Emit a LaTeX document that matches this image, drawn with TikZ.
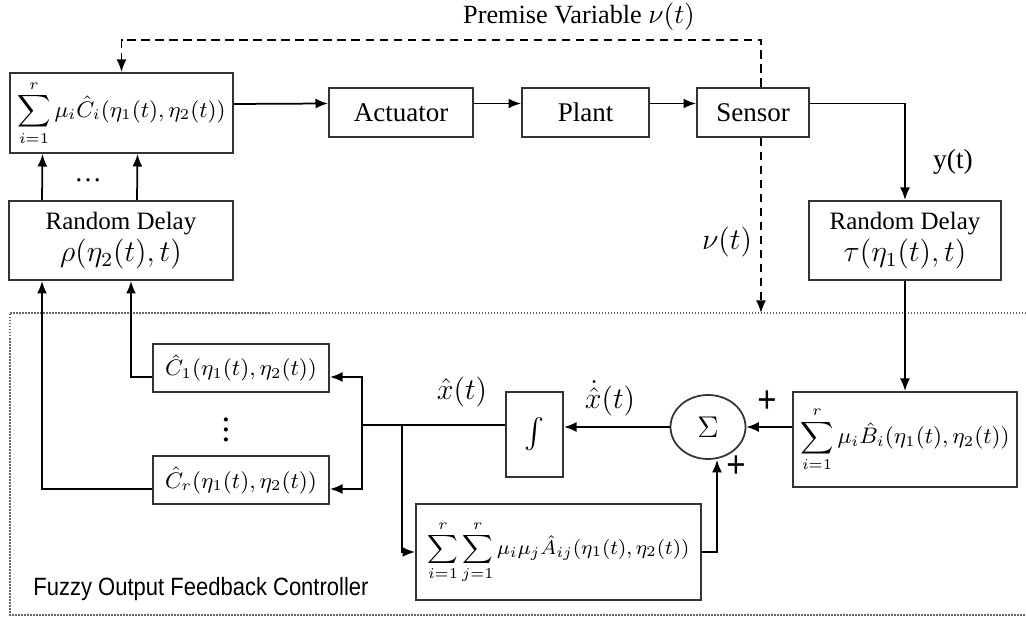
\documentclass[tikz,border=0pt]{standalone}
\usepackage{amsmath}
\usepackage{fontspec}
\setmainfont{Liberation Serif}
\newfontfamily\arialfont[FakeStretch=0.88]{Liberation Sans}
\usetikzlibrary{positioning, arrows.meta, shapes.geometric}

\begin{document}
\begin{tikzpicture}[
		x=0.4pt, y=-0.4pt,
		>={Latex[length=5pt,width=4pt]},
		every node/.style={font=\fontsize{10}{12}\selectfont},
		block/.style={draw=black!80, line width=0.8pt, inner sep=0pt, align=center},
		mathbox/.style={block, font=\fontsize{8.9}{10}\selectfont},
		sumnode/.style={draw=black!80, ellipse, line width=0.7pt, minimum width=30pt, minimum height=25.6pt, inner sep=0pt, font=\fontsize{13}{14}\selectfont},
		sig/.style={->, line width=0.7pt},
		link/.style={line width=0.7pt},
		dashsig/.style={->, line width=0.7pt, dash pattern=on 3.4pt off 2.2pt},
		framebox/.style={black!60, line width=0.6pt, dash pattern=on 0.6pt off 0.6pt},
		siglabel/.style={font=\fontsize{12.5}{14}\selectfont},
		plus/.style={font=\arialfont\fontsize{15}{15}\selectfont},
		]
		\useasboundingbox (0,0) rectangle (1026,617);
		
		% Top row: controller, actuator, plant, sensor
		\node[mathbox, minimum width=89.2pt, minimum height=32pt] (ctrl) at (121.5,113) {$\displaystyle\sum_{i=1}^{r}\mu_i\hat{C}_i(\eta_1(t),\eta_2(t))$};
		\node[block, minimum width=57.6pt, minimum height=19.6pt, font=\fontsize{10.8}{12}\selectfont] (act) at (401,112.5) {Actuator};
		\node[block, minimum width=50.8pt, minimum height=19.6pt, font=\fontsize{10.8}{12}\selectfont] (plant) at (585.5,112.5) {Plant};
		\node[block, minimum width=44.8pt, minimum height=19.6pt, font=\fontsize{10.8}{12}\selectfont] (sensor) at (753,112.5) {Sensor};
		
		% Random delays
		\node[block, minimum width=89.6pt, minimum height=31.6pt] (rho) at (121,240.5) {Random Delay\\[1pt]{\fontsize{12}{13}\selectfont$\rho(\eta_2(t),t)$}};
		\node[block, minimum width=76.8pt, minimum height=31.6pt] (tau) at (905,240.5) {Random Delay\\[1pt]{\fontsize{12}{13}\selectfont$\tau(\eta_1(t),t)$}};
		
		% Controller frame
		\coordinate (fnw) at (10,313);
		\coordinate (fse) at (1026,615);
		\draw[framebox] (fse |- fnw) -- (fnw) |- (fse);
		\node[font=\arialfont\fontsize{10}{12}\selectfont] (ftitle) at (201,589) {Fuzzy Output Feedback Controller};
		
		% Inside the controller
		\node[block, minimum width=70.4pt, minimum height=19.2pt, font=\fontsize{9}{10}\selectfont] (c1) at (241,368) {$\hat{C}_1(\eta_1(t),\eta_2(t))$};
		\node[block, minimum width=70.4pt, minimum height=19.2pt, font=\fontsize{9}{10}\selectfont] (cr) at (241,480.5) {$\hat{C}_r(\eta_1(t),\eta_2(t))$};
		\node[font=\fontsize{14}{14}\selectfont] (vd) at (226,422) {$\vdots$};
		\node[block, minimum width=22.8pt, minimum height=34pt, font=\fontsize{13}{14}\selectfont] (integ) at (534.5,434.5) {$\int$};
		\node[sumnode] (sm) at (708,427) {$\Sigma$};
		\node[mathbox, minimum width=89.6pt, minimum height=38pt, font=\fontsize{9.2}{10}\selectfont] (bb) at (905,439.5) {$\displaystyle\sum_{i=1}^{r}\mu_i\hat{B}_i(\eta_1(t),\eta_2(t))$};
		\node[mathbox, minimum width=114pt, minimum height=38.4pt, font=\fontsize{8.5}{10}\selectfont] (aa) at (558.5,552) {$\displaystyle\sum_{i=1}^{r}\sum_{j=1}^{r}\mu_i\mu_j\hat{A}_{ij}(\eta_1(t),\eta_2(t))$};
		\coordinate (br1) at (362,425);
		\coordinate (br2) at (402,425);
		
		% Labels
		\node[font=\fontsize{10.5}{12}\selectfont] (pvlabel) at (579,17) {Premise Variable $\nu(t)$};
		\node[font=\fontsize{11}{12}\selectfont] (ylabel) at (953,162) {y(t)};
		\node[siglabel] (nulabel) at (727,242) {$\nu(t)$};
		\node[siglabel] (xlabel) at (462,392) {$\hat{x}(t)$};
		\node[siglabel] (xdlabel) at (610,398) {$\dot{\hat{x}}(t)$};
		\node[plus] (p1) at (767,402) {+};
		\node[plus] (p2) at (736,467) {+};
		\node[font=\fontsize{11}{12}\selectfont] (hd) at (88,180) {\ldots};
		
		% Forward path
		\draw[sig] ([yshift=3.6pt]ctrl.east) -- ([yshift=3.6pt]act.west);
		\draw[sig] ([yshift=3.6pt]act.east) -- ([yshift=3.6pt]plant.west);
		\draw[sig] ([yshift=3.6pt]plant.east) -- ([yshift=3.6pt]sensor.west);
		\draw[sig] ([yshift=3.6pt]sensor.east) -| (tau.north);
		\draw[sig] (tau.south) -- (bb.north);
		
		% Premise variable (dashed)
		\draw[dashsig] ([xshift=3.2pt]sensor.north) -- ++(0,-47) -| (ctrl.north);
		\draw[dashsig] ([xshift=3.2pt]sensor.south) -- ([xshift=3.2pt]sensor.south |- fnw);
		
		% Observer loop
		\draw[sig] (sm.east -| bb.west) -- (sm.east);
		\draw[sig] (sm.west) -- (sm.west -| integ.east);
		\draw[link] (br1 -| integ.west) -- (br1);
		\draw[sig] (br1) |- ([yshift=-3.6pt]c1.east);
		\draw[sig] (br1) |- ([yshift=-3.4pt]cr.east);
		\draw[sig] (br2) |- (aa.west);
		\draw[sig] (aa.east) -| ([xshift=3.6pt]sm.south);
		
		% Outputs back through the delay
		\draw[sig] ([yshift=-3.6pt]c1.west) -| ([xshift=4pt]rho.south);
		\draw[sig] ([yshift=-3.4pt]cr.west) -| ([xshift=-31.6pt]rho.south);
		\draw[sig] ([xshift=-31.6pt]rho.north) -- ([xshift=-31.6pt]ctrl.south);
		\draw[sig] ([xshift=6.4pt]rho.north) -- ([xshift=6.4pt]ctrl.south);
		
	\end{tikzpicture}
\end{document}
